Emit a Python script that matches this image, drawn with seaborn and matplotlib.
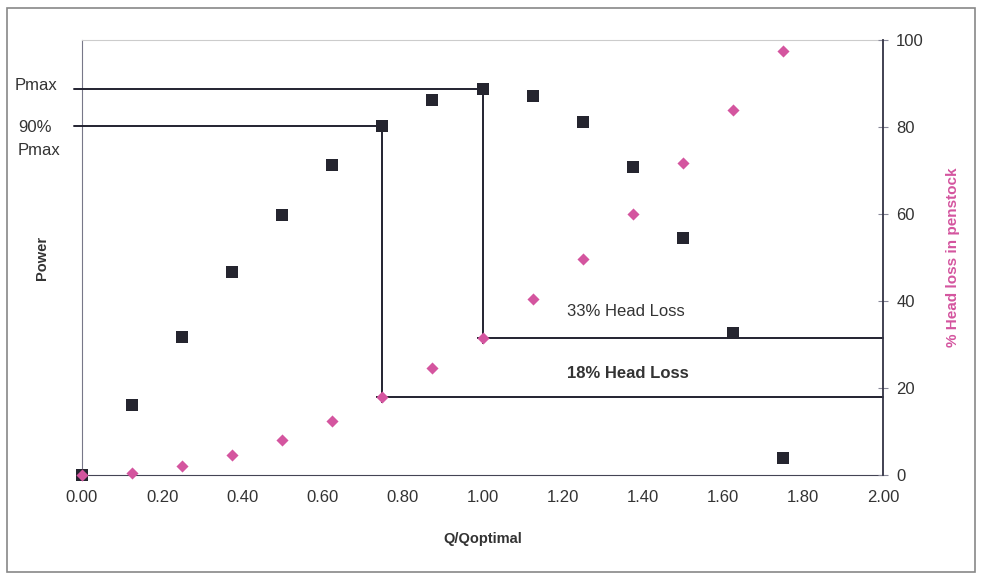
import matplotlib
matplotlib.use("Agg")
import matplotlib.pyplot as plt
import seaborn as sns
import pandas as pd
from matplotlib.patches import Rectangle

# Q/Qoptimal, relative power and % head loss
q_ratio = [0.0, 0.125, 0.25, 0.375, 0.5, 0.625, 0.75, 0.875, 1.0, 1.125, 1.25, 1.375, 1.5, 1.625, 1.75]
power = [0.0, 16.0, 31.7, 46.7, 59.8, 71.3, 80.2, 86.2, 88.7, 87.1, 81.1, 70.8, 54.5, 32.6, 3.9]
head_loss = [0.0, 0.5, 2.0, 4.5, 8.0, 12.5, 18.0, 24.5, 31.5, 40.5, 49.6, 60.0, 71.7, 84.0, 97.5]

x_ticks = [0.0, 0.2, 0.4, 0.6, 0.8, 1.0, 1.2, 1.4, 1.6, 1.8, 2.0]
y2_ticks = [0, 20, 40, 60, 80, 100]

df = pd.DataFrame({"q": q_ratio, "power": power, "head_loss": head_loss})

sns.set_style("white")
plt.rcParams["font.family"] = ["Liberation Sans", "DejaVu Sans"]

W, H = 981, 576
fig = plt.figure(figsize=(W / 100, H / 100), dpi=100)
ax = fig.add_axes([82 / W, 1 - 475 / H, (883 - 82) / W, (475 - 40) / H])
ax2 = ax.twinx()

pink = "#d4559f"
dark = "#25252f"

sns.scatterplot(data=df, x="q", y="power", ax=ax, marker="s", s=75,
                color=dark, edgecolor=dark, linewidth=0, zorder=5, clip_on=False)
sns.scatterplot(data=df, x="q", y="head_loss", ax=ax2, marker="D", s=38,
                color=pink, edgecolor=pink, linewidth=0, zorder=5, clip_on=False)

# guide lines: Pmax / 90% Pmax and their head losses
i_opt = q_ratio.index(1.0)
i_90 = q_ratio.index(0.75)
p_max = power[i_opt]
p_90 = power[i_90]
hl_opt = head_loss[i_opt]
hl_90 = head_loss[i_90]

line_kw = dict(color="#222230", linewidth=1.4, clip_on=False, zorder=4)
ax.plot([-0.02, 1.0, 1.0], [p_max, p_max, hl_opt], **line_kw)
ax.plot([1.0, 2.0], [hl_opt, hl_opt], **line_kw)
ax.plot([-0.02, 0.75, 0.75], [p_90, p_90, hl_90], **line_kw)
ax.plot([0.75, 2.0], [hl_90, hl_90], **line_kw)
ax.plot([1.0, 0.75], [hl_opt, hl_90], linestyle="none", marker="+",
        markersize=9, color="#222230", markeredgewidth=1.4, zorder=6)

ax.set_xlim(0, 2.0)
ax.set_ylim(0, 100)
ax2.set_ylim(0, 100)
ax.set_xticks(x_ticks)
ax.set_xticklabels([f"{v:.2f}" for v in x_ticks], fontsize=12, color="#333333")
ax.set_yticks([])
ax2.set_yticks(y2_ticks)
ax2.set_yticklabels([str(v) for v in y2_ticks], fontsize=12, color="#333333")
ax.tick_params(axis="x", direction="inout", length=5, color="#888899", pad=8)
ax2.tick_params(axis="y", direction="inout", length=7, color="#888899", pad=6)

ax.set_xlabel("Q/Qoptimal", fontsize=10.5, fontweight="bold", color="#333333", labelpad=20)
ax.set_ylabel("Power", fontsize=10.5, fontweight="bold", color="#333333", labelpad=24)
ax2.set_ylabel("% Head loss in penstock", fontsize=11, fontweight="bold", color=pink, labelpad=16)

for side, col in [("top", "#cccccc"), ("left", "#777788"), ("bottom", "#444455")]:
    ax.spines[side].set_color(col)
    ax2.spines[side].set_visible(False)
ax.spines["right"].set_visible(False)
ax2.spines["right"].set_color("#333344")
ax2.spines["right"].set_linewidth(1.3)

def ftext(x, y, s, **kw):
    fig.text(x / W, 1 - y / H, s, va="center", ha="left", color="#333333", **kw)

ftext(15, 85, "Pmax", fontsize=12)
ftext(18, 127, "90%", fontsize=12)
ftext(18, 150, "Pmax", fontsize=12)
ftext(567, 311, "33% Head Loss", fontsize=12)
ftext(567, 374, "18% Head Loss", fontsize=12, fontweight="bold")

fig.patches.append(Rectangle((7 / W, 1 - 572 / H), (975 - 7) / W, (572 - 8) / H,
                             transform=fig.transFigure, fill=False,
                             edgecolor="#888888", linewidth=1.2))

fig.savefig("out.png", dpi=100)
